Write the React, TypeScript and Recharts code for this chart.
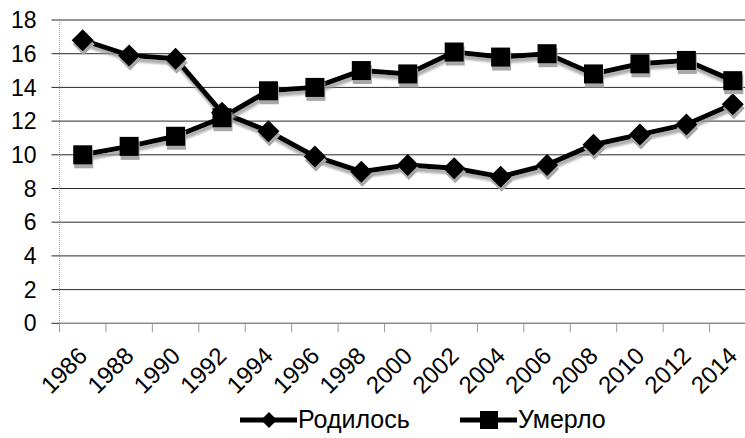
import React from 'react';
import { LineChart, Line, XAxis, YAxis, CartesianGrid, Legend } from 'recharts';

const years = ['1986', '1988', '1990', '1992', '1994', '1996', '1998', '2000', '2002', '2004', '2006', '2008', '2010', '2012', '2014'];
const born = [16.8, 15.9, 15.7, 12.5, 11.4, 9.9, 9.0, 9.4, 9.2, 8.7, 9.4, 10.6, 11.2, 11.8, 13.0];
const died = [10.0, 10.5, 11.1, 12.2, 13.8, 14.0, 15.0, 14.8, 16.1, 15.8, 16.0, 14.8, 15.4, 15.6, 14.4];
const yTicks = [0, 2, 4, 6, 8, 10, 12, 14, 16, 18];
const seriesNames = ['Родилось', 'Умерло'];

const data = years.map((y, i) => ({ year: y, born: born[i], died: died[i] }));

const CHART_W = 760;
const CHART_H = 438;
const Y_W = 59.5;
const M_RIGHT = 4;
const BAND = (CHART_W - Y_W - M_RIGHT) / years.length;
const FONT = '"Liberation Sans", Arial, sans-serif';

const diamondPath = (cx: number, cy: number, r: number) =>
  `M${cx},${cy - r}L${cx + r},${cy}L${cx},${cy + r}L${cx - r},${cy}Z`;

const DiamondDot = (props: any) => {
  const { cx, cy } = props;
  if (cx == null || cy == null) return null;
  return (
    <g>
      <path d={diamondPath(cx + 1, cy + 4, 11)} fill="#a8a8a8" />
      <path d={diamondPath(cx, cy, 11)} fill="#000" />
    </g>
  );
};

const SquareDot = (props: any) => {
  const { cx, cy } = props;
  if (cx == null || cy == null) return null;
  const s = 19;
  return (
    <g>
      <rect x={cx - s / 2 + 1} y={cy - s / 2 + 4} width={s} height={s} fill="#a8a8a8" />
      <rect x={cx - s / 2} y={cy - s / 2} width={s} height={s} fill="#000" />
    </g>
  );
};

const XTick = (props: any) => {
  const { x, y, payload } = props;
  const bx = x - BAND / 2;
  const ax = x + 6;
  const ay = y + 26;
  return (
    <g>
      <line x1={bx} y1={y - 8} x2={bx} y2={y + 1} stroke="#999" strokeWidth={1} />
      <text
        x={ax}
        y={ay}
        transform={`rotate(-45, ${ax}, ${ay})`}
        textAnchor="end"
        fontSize={24}
        fontFamily={FONT}
        fill="#000"
      >
        {payload.value}
      </text>
    </g>
  );
};

const LegendContent = () => (
  <svg width={CHART_W} height={40} style={{ display: 'block' }}>
    <line x1={240} y1={22} x2={297} y2={22} stroke="#000" strokeWidth={5} />
    <path d={diamondPath(269, 22, 8)} fill="#000" />
    <text x={298} y={30} fontSize={25} fontFamily={FONT} fill="#000">{seriesNames[0]}</text>
    <line x1={460} y1={22} x2={517} y2={22} stroke="#000" strokeWidth={5} />
    <rect x={480} y={13} width={18} height={18} fill="#000" />
    <text x={518} y={30} fontSize={25} fontFamily={FONT} fill="#000">{seriesNames[1]}</text>
  </svg>
);

export default function App() {
  return (
    <div style={{ position: 'absolute', left: 0, top: 0, width: 745, height: 438, overflow: 'hidden', background: '#fff' }}>
      <LineChart
        width={CHART_W}
        height={CHART_H}
        data={data}
        margin={{ top: 20, right: M_RIGHT, left: 0, bottom: 0 }}
      >
        <defs>
          <filter id="lineShadow" x="-10%" y="-10%" width="120%" height="140%">
            <feDropShadow dx={1} dy={4} stdDeviation={0.8} floodColor="#999" floodOpacity={0.8} />
          </filter>
        </defs>
        <CartesianGrid horizontal vertical={false} stroke="#2a2a2a" strokeWidth={1} />
        <XAxis
          dataKey="year"
          scale="band"
          height={74.7}
          tickLine={false}
          tickSize={8}
          tickMargin={0}
          axisLine={{ stroke: '#999', strokeWidth: 1 }}
          tick={<XTick />}
          interval={0}
        />
        <YAxis
          width={Y_W}
          domain={[0, 18]}
          ticks={yTicks}
          interval={0}
          tickSize={8}
          tickMargin={15}
          axisLine={{ stroke: '#999', strokeWidth: 1, strokeDasharray: '1 1' }}
          tickLine={{ stroke: '#2a2a2a', strokeWidth: 1 }}
          tick={{ fontSize: 23, fontFamily: FONT, fill: '#000' }}
        />
        <Legend verticalAlign="bottom" height={40} content={<LegendContent />} />
        <Line
          dataKey="born"
          name={seriesNames[0]}
          stroke="#000"
          strokeWidth={5}
          filter="url(#lineShadow)"
          dot={<DiamondDot />}
          activeDot={false}
          isAnimationActive={false}
        />
        <Line
          dataKey="died"
          name={seriesNames[1]}
          stroke="#000"
          strokeWidth={5}
          filter="url(#lineShadow)"
          dot={<SquareDot />}
          activeDot={false}
          isAnimationActive={false}
        />
      </LineChart>
    </div>
  );
}
